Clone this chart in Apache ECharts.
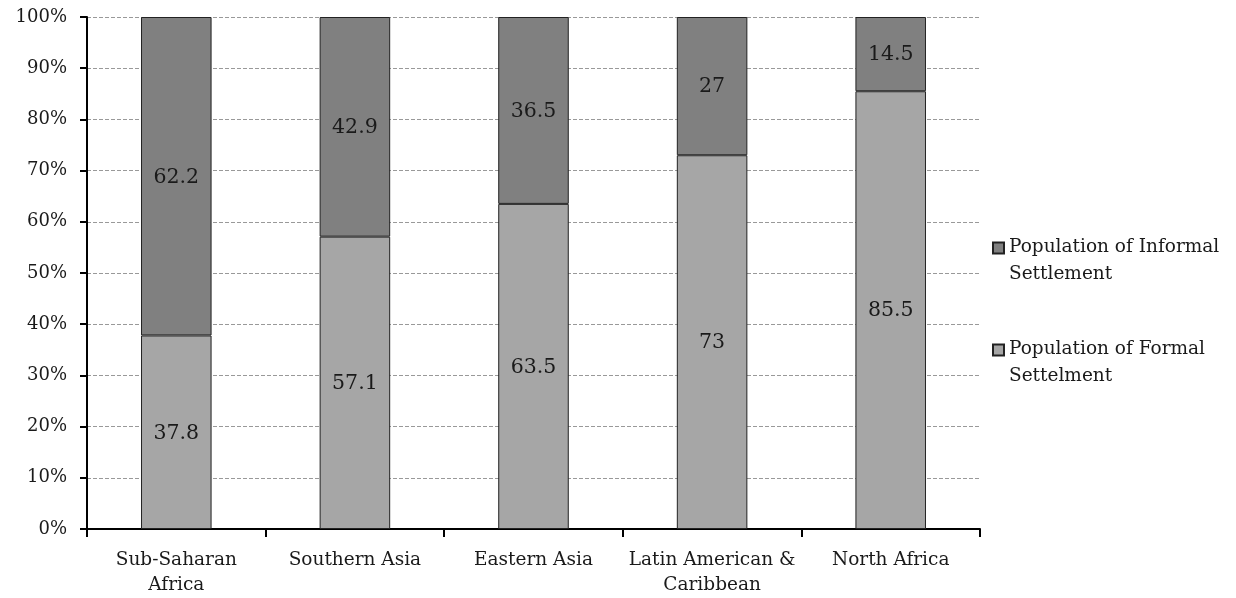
<!DOCTYPE html>
<html>
<head>
<meta charset="utf-8">
<script src="https://cdn.jsdelivr.net/npm/echarts@6/dist/echarts.min.js"></script>
<style>
  html, body { margin: 0; padding: 0; background: #fff; }
  #chart { width: 1236px; height: 598px; }
</style>
</head>
<body>
<div id="chart"></div>
<script>
// Regions and population share (%) by settlement type
const regions = ['Sub-Saharan\nAfrica', 'Southern Asia', 'Eastern Asia', 'Latin American &\nCaribbean', 'North Africa'];
const formalShare = [37.8, 57.1, 63.5, 73, 85.5];
const informalShare = [62.2, 42.9, 36.5, 27, 14.5];
const formalName = 'Population of Formal\nSettelment';
const informalName = 'Population of Informal\nSettlement';

const serif = '"DejaVu Serif", "Liberation Serif", serif';

// Square legend marker sitting on the first text line: the trailing moveTo
// stretches the symbol's box downward without drawing anything.
const legendIcon = 'path://M0,0H10V10H0Z M0,33.6';

const chart = echarts.init(document.getElementById('chart'));
chart.setOption({
  animation: false,
  backgroundColor: '#ffffff',
  textStyle: { fontFamily: serif },
  grid: { left: 87, right: 256, top: 17, bottom: 68 },
  legend: {
    orient: 'vertical',
    left: 992,
    top: 234,
    padding: 0,
    itemGap: 48,
    itemWidth: 11,
    itemHeight: 37,
    icon: legendIcon,
    data: [informalName, formalName],
    textStyle: { fontFamily: serif, fontSize: 18.5, color: '#1a1a1a', lineHeight: 27 }
  },
  xAxis: {
    type: 'category',
    data: regions,
    axisLine: { lineStyle: { color: '#000', width: 2 } },
    axisTick: { show: true, interval: 0, length: 8, lineStyle: { color: '#000', width: 2 } },
    axisLabel: { interval: 0, color: '#1a1a1a', fontSize: 18.5, fontFamily: serif, lineHeight: 25, margin: 19 }
  },
  yAxis: {
    type: 'value',
    min: 0,
    max: 100,
    interval: 10,
    axisLine: { show: true, lineStyle: { color: '#000', width: 2 } },
    axisTick: { show: true, length: 7, lineStyle: { color: '#000', width: 2 } },
    axisLabel: { color: '#1a1a1a', fontSize: 18, fontFamily: serif, margin: 20, formatter: '{value}%' },
    splitLine: { show: true, lineStyle: { color: '#999', type: [4, 2], width: 1 } }
  },
  series: [
    {
      name: formalName,
      type: 'bar',
      stack: 'share',
      data: formalShare,
      barWidth: '39.5%',
      itemStyle: { color: '#a6a6a6', borderColor: '#222', borderWidth: 1 },
      label: { show: true, position: 'inside', offset: [0, 1], color: '#1a1a1a', fontSize: 20.5, fontFamily: serif }
    },
    {
      name: informalName,
      type: 'bar',
      stack: 'share',
      data: informalShare,
      barWidth: '39.5%',
      itemStyle: { color: '#808080', borderColor: '#222', borderWidth: 1 },
      label: { show: true, position: 'inside', offset: [0, 1], color: '#1a1a1a', fontSize: 20.5, fontFamily: serif }
    }
  ]
});
</script>
</body>
</html>
